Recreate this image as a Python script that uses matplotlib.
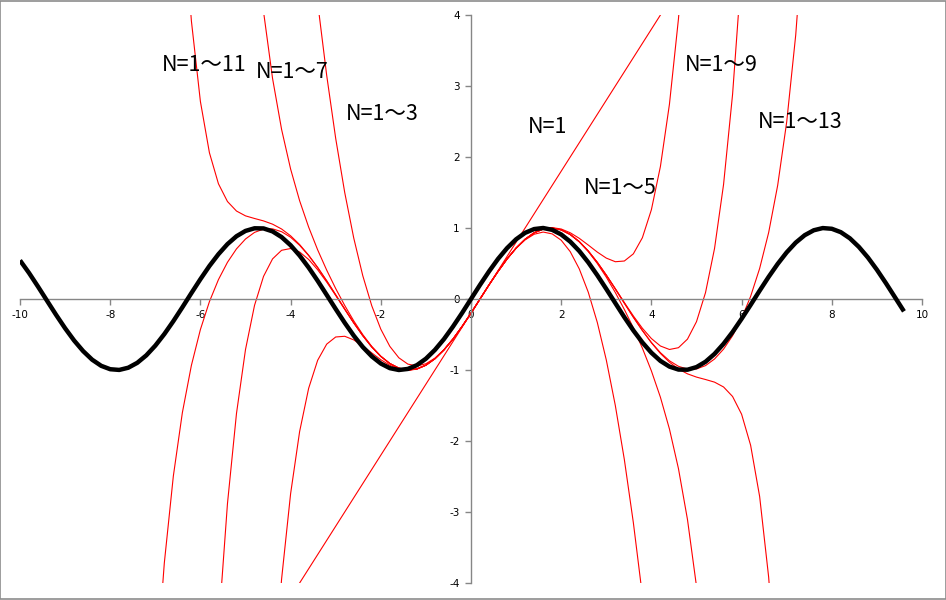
import numpy as np
import matplotlib
matplotlib.use('Agg')
import matplotlib.pyplot as plt
from matplotlib.ticker import MultipleLocator
from matplotlib.patches import Rectangle

plt.rcParams['font.family'] = ['Noto Sans CJK JP', 'DejaVu Sans']
plt.rcParams['axes.unicode_minus'] = False

# sin(x), x = -10 .. 9.6, step 0.2
sin_x0 = -10.0
y_sin = [0.544, 0.367, 0.174, -0.025, -0.223, -0.412, -0.585, -0.734, -0.855, -0.941,
         -0.989, -0.999, -0.968, -0.899, -0.794, -0.657, -0.494, -0.312, -0.117, 0.083,
         0.279, 0.465, 0.631, 0.773, 0.884, 0.959, 0.996, 0.994, 0.952, 0.872,
         0.757, 0.612, 0.443, 0.256, 0.058, -0.141, -0.335, -0.516, -0.676, -0.808,
         -0.909, -0.974, -1.0, -0.985, -0.932, -0.841, -0.717, -0.565, -0.389, -0.199,
         0.0,
         0.199, 0.389, 0.565, 0.717, 0.841, 0.932, 0.985, 1.0, 0.974, 0.909,
         0.808, 0.676, 0.516, 0.335, 0.141, -0.058, -0.256, -0.443, -0.612, -0.757,
         -0.872, -0.952, -0.994, -0.996, -0.959, -0.884, -0.773, -0.631, -0.465, -0.279,
         -0.083, 0.117, 0.312, 0.494, 0.657, 0.794, 0.899, 0.968, 0.999, 0.989,
         0.941, 0.855, 0.734, 0.585, 0.412, 0.223, 0.025, -0.174]

# partial sums (red lines): first x and values, step 0.2 (N=1 step 0.4)
n1_x0 = -4.2
n1_y = [-4.4, -4.0, -3.6, -3.2, -2.8, -2.4, -2.0, -1.6, -1.2, -0.8, -0.4, 0.0,
        0.4, 0.8, 1.2, 1.6, 2.0, 2.4, 2.8, 3.2, 3.6, 4.0, 4.4]

n3_x0 = -3.4
n3_y = [4.176, 3.151, 2.261, 1.500, 0.859, 0.329, -0.096, -0.425, -0.667, -0.828,
        -0.917, -0.943, -0.912, -0.833, -0.715, -0.564, -0.389, -0.199,
        0.0,
        0.199, 0.389, 0.564, 0.715, 0.833, 0.912, 0.943, 0.917, 0.828, 0.667,
        0.425, 0.096, -0.329, -0.859, -1.500, -2.261, -3.151, -4.176]

n5_x0 = -4.4
n5_y = [-5.541, -3.946, -2.743, -1.867, -1.258, -0.863, -0.636, -0.535, -0.525, -0.576,
        -0.661, -0.760, -0.855, -0.933, -0.986, -1.005, -0.988, -0.933, -0.842, -0.717,
        -0.565, -0.389, -0.199,
        0.0,
        0.199, 0.389, 0.565, 0.717, 0.842, 0.933, 0.988, 1.005, 0.986, 0.933,
        0.855, 0.760, 0.661, 0.576, 0.525, 0.535, 0.636, 0.863, 1.258, 1.867,
        2.743, 3.946, 5.541]

n7_x0 = -4.6
n7_y = [4.047, 3.106, 2.389, 1.831, 1.384, 1.013, 0.692, 0.407, 0.147, -0.091,
        -0.308, -0.501, -0.669, -0.805, -0.908, -0.973, -0.999, -0.985, -0.932, -0.841,
        -0.717, -0.565, -0.389, -0.199,
        0.0,
        0.199, 0.389, 0.565, 0.717, 0.841, 0.932, 0.985, 0.999, 0.973, 0.908,
        0.805, 0.669, 0.501, 0.308, 0.091, -0.147, -0.407, -0.692, -1.013, -1.384,
        -1.831, -2.389, -3.106, -4.047]

n9_x0 = -5.6
n9_y = [-4.637, -2.883, -1.613, -0.712, -0.090, 0.319, 0.565, 0.686, 0.711, 0.662,
        0.557, 0.412, 0.239, 0.050, -0.145, -0.337, -0.516, -0.676, -0.809, -0.909,
        -0.974, -1.000, -0.985, -0.932, -0.841, -0.717, -0.565, -0.389, -0.199,
        0.0,
        0.199, 0.389, 0.565, 0.717, 0.841, 0.932, 0.985, 1.000, 0.974, 0.909,
        0.809, 0.676, 0.516, 0.337, 0.145, -0.050, -0.239, -0.412, -0.557, -0.662,
        -0.711, -0.686, -0.565, -0.319, 0.090, 0.712, 1.613, 2.883, 4.637]

n11_x0 = -6.4
n11_y = [5.640, 3.918, 2.782, 2.060, 1.623, 1.373, 1.239, 1.171, 1.134, 1.100,
         1.054, 0.986, 0.890, 0.767, 0.617, 0.445, 0.257, 0.059, -0.141, -0.335,
         -0.516, -0.676, -0.809, -0.909, -0.974, -1.000, -0.985, -0.932, -0.841, -0.717,
         -0.565, -0.389, -0.199,
         0.0,
         0.199, 0.389, 0.565, 0.717, 0.841, 0.932, 0.985, 1.000, 0.974, 0.909,
         0.809, 0.676, 0.516, 0.335, 0.141, -0.059, -0.257, -0.445, -0.617, -0.767,
         -0.890, -0.986, -1.054, -1.100, -1.134, -1.171, -1.239, -1.373, -1.623, -2.060,
         -2.782, -3.918, -5.640]

n13_x0 = -7.0
n13_y = [-5.420, -3.718, -2.494, -1.601, -0.936, -0.430, -0.037, 0.273, 0.517, 0.706,
         0.845, 0.938, 0.985, 0.988, 0.948, 0.870, 0.756, 0.612, 0.442, 0.256,
         0.058, -0.141, -0.335, -0.516, -0.676, -0.808, -0.909, -0.974, -1.000, -0.985,
         -0.932, -0.841, -0.717, -0.565, -0.389, -0.199,
         0.0,
         0.199, 0.389, 0.565, 0.717, 0.841, 0.932, 0.985, 1.000, 0.974, 0.909,
         0.808, 0.676, 0.516, 0.335, 0.141, -0.058, -0.256, -0.442, -0.612, -0.756,
         -0.870, -0.948, -0.988, -0.985, -0.938, -0.845, -0.706, -0.517, -0.273, 0.037,
         0.430, 0.936, 1.601, 2.494, 3.718, 5.420]

labels = ['N=1～11', 'N=1～7', 'N=1～3', 'N=1', 'N=1～5', 'N=1～9', 'N=1～13']
label_x = [-6.85, -4.76, -2.77, 1.27, 2.51, 4.75, 6.35]
label_y = [3.29, 3.20, 2.60, 2.42, 1.56, 3.29, 2.50]


def xs(x0, vals, step=0.2):
    return np.round(x0 + step * np.arange(len(vals)), 1)


fig = plt.figure(figsize=(9.46, 6.0), dpi=100)
ax = fig.add_axes([20 / 946, 17 / 600, 902 / 946, 568 / 600])

ax.plot(xs(n1_x0, n1_y, 0.4), n1_y, color='red', lw=0.8, zorder=2)
for x0, ys in [(n3_x0, n3_y), (n5_x0, n5_y), (n7_x0, n7_y),
               (n9_x0, n9_y), (n11_x0, n11_y), (n13_x0, n13_y)]:
    ax.plot(xs(x0, ys), ys, color='red', lw=0.8, zorder=2)

ax.plot(xs(sin_x0, y_sin), y_sin, color='black', lw=3.2, zorder=3,
        solid_joinstyle='round', solid_capstyle='butt')

for t, tx, ty in zip(labels, label_x, label_y):
    ax.text(tx, ty, t, fontsize=15.5, ha='left', va='center', color='black')

ax.set_xlim(-10, 10)
ax.set_ylim(-4, 4)
ax.xaxis.set_major_locator(MultipleLocator(2))
ax.yaxis.set_major_locator(MultipleLocator(1))

for s in ['top', 'right']:
    ax.spines[s].set_visible(False)
ax.spines['left'].set_position('zero')
ax.spines['bottom'].set_position('zero')
for s in ['left', 'bottom']:
    ax.spines[s].set_color('#868686')
    ax.spines[s].set_linewidth(1)

ax.tick_params(axis='both', direction='out', length=4, width=1, color='#868686',
               labelsize=7.5)
ax.tick_params(axis='x', pad=4)
ax.tick_params(axis='y', pad=4)
for lab in ax.get_xticklabels() + ax.get_yticklabels():
    lab.set_family('DejaVu Sans')

ax.patch.set_alpha(0)
fig.patches.append(Rectangle((0.0005, 0.001), 0.999, 0.998, transform=fig.transFigure,
                             fill=False, edgecolor='#8c8c8c', lw=1.2))

fig.savefig('out.png', dpi=100)
